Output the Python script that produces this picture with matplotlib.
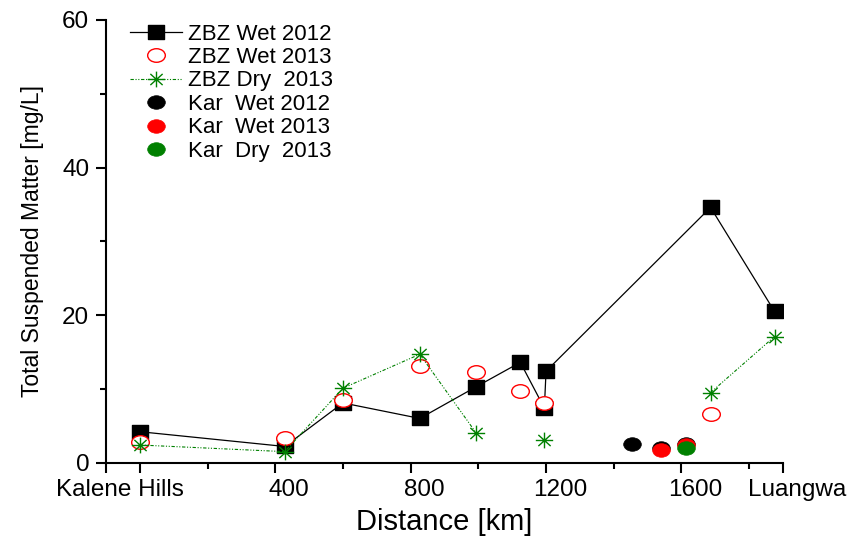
import numpy as np
import matplotlib
matplotlib.use("Agg")
import matplotlib.pyplot as plt
from matplotlib.path import Path
from matplotlib.transforms import Affine2D, ScaledTranslation
from matplotlib.ticker import FixedLocator

plt.rcParams['font.family'] = ['Liberation Sans', 'DejaVu Sans']

# distances along the river [km]
zbz_x = [0, 428, 600, 827, 994, 1124, 1195, 1200, 1686, 1875]
zbz_wet_2012 = [4.2, 2.2, 8.1, 6.0, 10.3, 13.6, 7.4, 12.4, 34.6, 20.5]
zbz_wet_2013 = [2.85, 3.3, 8.5, 13.1, 12.3, 9.75, 8.1, np.nan, 6.6, np.nan]
zbz_dry_2013 = [2.4, 1.5, 10.1, 14.7, 4.0, np.nan, 3.1, np.nan, 9.5, 17.1]

kar_wet_2012_x = [1453, 1540, 1612]
kar_wet_2012 = [2.5, 2.0, 2.6]
kar_wet_2013_x = [1540, 1612]
kar_wet_2013 = [1.75, 2.35]
kar_dry_2013_x = [1612]
kar_dry_2013 = [2.0]

tick_pos = [-100, 0, 400, 800, 1200, 1600, 1900]
tick_labels = ['', 'Kalene Hills', '400', '800', '1200', '1600', 'Luangwa']
# horizontal nudge of each tick label, in pixels
label_shift = [0, -20, 14, 14, 14, 14, 14]

green = '#008000'
red = '#ff0000'

# slightly wide marker shapes
oval = Path.unit_circle().transformed(Affine2D().scale(1.3, 1.0))
box = Path.unit_rectangle().transformed(Affine2D().translate(-0.5, -0.5).scale(1.15, 1.0))
verts, codes = [], []
for a in np.deg2rad([0, 45, 90, 135]):
    verts += [(-np.cos(a), -np.sin(a)), (np.cos(a), np.sin(a))]
    codes += [Path.MOVETO, Path.LINETO]
star = Path(verts, codes).transformed(Affine2D().scale(1.1, 1.0))

fig = plt.figure(figsize=(8.53, 5.38), dpi=100)
ax = fig.add_axes([106 / 853, 1 - 462.7 / 538, 677 / 853, 442.7 / 538])

ax.plot(zbz_x, zbz_wet_2012, color='black', lw=0.9, marker=box, ms=11,
        mfc='black', mec='black', label='ZBZ Wet 2012')
ax.plot(zbz_x, zbz_wet_2013, ls='none', marker=oval, ms=12.7,
        mfc='white', mec=red, mew=1.0, label='ZBZ Wet 2013')
ax.plot(zbz_x, zbz_dry_2013, color=green, lw=0.8,
        ls=(0, (3, 1.5, 1, 1.5, 1, 1.5)), marker=star, ms=12.5,
        mfc='none', mec=green, mew=1.0, label='ZBZ Dry  2013')
ax.plot(kar_wet_2012_x, kar_wet_2012, ls='none', marker=oval, ms=12.7,
        mfc='black', mec='black', mew=0.5, label='Kar  Wet 2012')
ax.plot(kar_wet_2013_x, kar_wet_2013, ls='none', marker=oval, ms=12.7,
        mfc=red, mec=red, mew=0.5, label='Kar  Wet 2013')
ax.plot(kar_dry_2013_x, kar_dry_2013, ls='none', marker=oval, ms=12.7,
        mfc=green, mec=green, mew=0.5, label='Kar  Dry  2013')

ax.set_xlim(-100, 1900)
ax.set_ylim(0, 60)
ax.set_xticks(tick_pos)
ax.set_xticklabels(tick_labels)
ax.xaxis.set_minor_locator(FixedLocator([200, 600, 1000, 1400, 1800]))
ax.set_yticks([0, 20, 40, 60])
ax.yaxis.set_minor_locator(FixedLocator([10, 30, 50]))

for side in ['top', 'right']:
    ax.spines[side].set_visible(False)
for side in ['left', 'bottom']:
    ax.spines[side].set_linewidth(1.5)

ax.tick_params(which='major', direction='out', length=7, width=1.5,
               labelsize=17.5, pad=5)
ax.tick_params(which='minor', direction='out', length=4.5, width=1.5)

for lab, dx in zip(ax.get_xticklabels(), label_shift):
    lab.set_transform(lab.get_transform()
                      + ScaledTranslation(dx / 100, 0, fig.dpi_scale_trans))

ax.set_xlabel('Distance [km]', fontsize=21)
ax.set_ylabel('Total Suspended Matter [mg/L]', fontsize=16.5)
ax.xaxis.set_label_coords(0.5, -0.103)
ax.yaxis.set_label_coords(-0.092, 0.5)

ax.legend(loc='upper left', bbox_to_anchor=(130 / 853, 1 - 23.5 / 538),
          bbox_transform=fig.transFigure, frameon=False, fontsize=16,
          borderpad=0, borderaxespad=0, labelspacing=0.11,
          handlelength=2.35, handletextpad=0.28)

fig.savefig('out.png', dpi=100)
